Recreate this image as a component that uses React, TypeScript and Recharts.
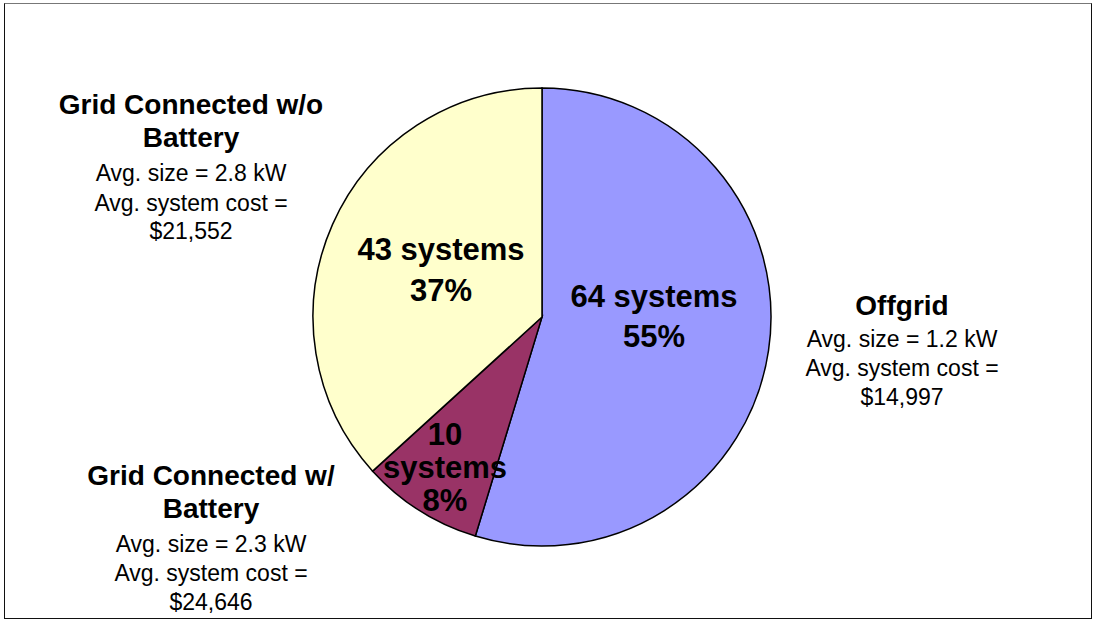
import { PieChart, Pie, Cell } from "recharts";

const SEGMENTS = ["Offgrid", "Grid Connected w/ Battery", "Grid Connected w/o Battery"];
const SYSTEMS = [64, 10, 43];
const PERCENTS = [55, 8, 37];
const AVG_SIZE_KW = [1.2, 2.3, 2.8];
const AVG_COST = [14997, 24646, 21552];
const TITLE_LINES = [["Offgrid"], ["Grid Connected w/", "Battery"], ["Grid Connected w/o", "Battery"]];
const INNER_LINES = [
  [`${SYSTEMS[0]} systems`, `${PERCENTS[0]}%`],
  [`${SYSTEMS[1]}`, "systems", `${PERCENTS[1]}%`],
  [`${SYSTEMS[2]} systems`, `${PERCENTS[2]}%`],
];

const COLORS = ["#9999FF", "#993366", "#FFFFCC"];
const FONT = "'Liberation Sans', Arial, sans-serif";

// label placement relative to the pie centre
const INNER_POS = [
  { dx: 112, dys: [-10, 30] },
  { dx: -97, dys: [128, 161, 194] },
  { dx: -101, dys: [-57, -16] },
];
const OUTER_POS = [
  { dx: 360, dys: [-2, 30, 59, 88] },
  { dx: -331, dys: [168, 201, 235, 264, 293] },
  { dx: -351, dys: [-203, -170, -136, -106, -78] },
];

const chartData = SEGMENTS.map((name, i) => ({ name, value: SYSTEMS[i] }));

function renderLabel(props: any) {
  const { cx, cy, index } = props;
  const inner = INNER_POS[index];
  const outer = OUTER_POS[index];
  const title = TITLE_LINES[index];
  const details = [
    `Avg. size = ${AVG_SIZE_KW[index].toFixed(1)} kW`,
    "Avg. system cost =",
    "$" + AVG_COST[index].toLocaleString("en-US"),
  ];
  return (
    <g>
      {INNER_LINES[index].map((t, j) => (
        <text key={"i" + j} x={cx + inner.dx} y={cy + inner.dys[j]} textAnchor="middle"
          fontFamily={FONT} fontWeight="bold" fontSize={31} fill="#000">
          {t}
        </text>
      ))}
      {title.map((t, j) => (
        <text key={"t" + j} x={cx + outer.dx} y={cy + outer.dys[j]} textAnchor="middle"
          fontFamily={FONT} fontWeight="bold" fontSize={28} fill="#000">
          {t}
        </text>
      ))}
      {details.map((t, j) => (
        <text key={"d" + j} x={cx + outer.dx} y={cy + outer.dys[title.length + j]} textAnchor="middle"
          fontFamily={FONT} fontSize={23} fill="#000">
          {t}
        </text>
      ))}
    </g>
  );
}

export default function App() {
  return (
    <div style={{ position: "absolute", left: 0, top: 0, width: 1096, height: 621, background: "#fff" }}>
      <div
        style={{
          position: "absolute",
          left: 4,
          top: 3,
          width: 1088,
          height: 616,
          borderLeft: "1.5px solid #111",
          borderRight: "1.5px solid #111",
          borderBottom: "1.5px solid #111",
          borderTop: "1.5px solid #777",
          boxSizing: "border-box",
        }}
      />
      <div style={{ position: "absolute", left: 0, top: 0 }}>
        <PieChart width={1096} height={621} margin={{ top: 0, right: 0, bottom: 0, left: 0 }}>
          <Pie
            data={chartData}
            dataKey="value"
            cx={542}
            cy={317}
            outerRadius={229}
            startAngle={90}
            endAngle={-270}
            stroke="#000"
            strokeWidth={1.5}
            label={renderLabel}
            labelLine={false}
            isAnimationActive={false}
          >
            {chartData.map((_, idx) => (
              <Cell key={idx} fill={COLORS[idx]} />
            ))}
          </Pie>
        </PieChart>
      </div>
    </div>
  );
}
